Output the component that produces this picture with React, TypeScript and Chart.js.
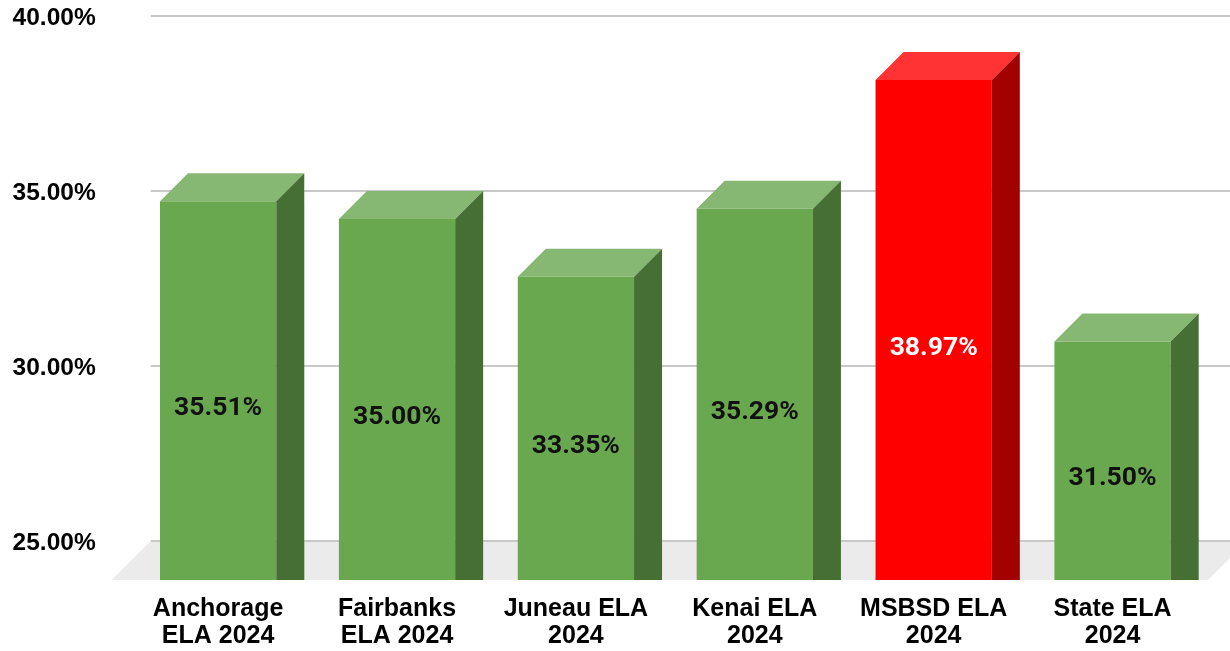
import React, { useEffect, useRef } from "react";
import { Chart, registerables } from "chart.js";

Chart.register(...registerables);

// ---- data ----
const CATEGORIES: string[][] = [
  ["Anchorage", "ELA 2024"],
  ["Fairbanks", "ELA 2024"],
  ["Juneau ELA", "2024"],
  ["Kenai ELA", "2024"],
  ["MSBSD ELA", "2024"],
  ["State ELA", "2024"],
];
const VALUES: number[] = [35.51, 35.0, 33.35, 35.29, 38.97, 31.5];
const HIGHLIGHT: boolean[] = [false, false, false, false, true, false];
const Y_TICKS: number[] = [25, 30, 35, 40];

// ---- styles ----
const DEPTH = 28;
const GREEN = { front: "#6aa84f", top: "#87b873", side: "#466f34", text: "#111111" };
const RED = { front: "#ff0000", top: "#ff3333", side: "#a30000", text: "#ffffff" };
const AXIS_FONT = "'Liberation Sans', Arial, sans-serif";
const LABEL_FONT = "Roboto, 'Liberation Sans', sans-serif";

const bars3d = {
  id: "bars3d",
  beforeDatasetsDraw(chart: any) {
    const { ctx, chartArea, scales } = chart;
    const yB = scales.y;
    const backY = yB.getPixelForValue(Y_TICKS[0]);
    const frontY = chartArea.bottom;
    const dx = frontY - backY;
    ctx.save();
    // floor
    ctx.fillStyle = "#ebebeb";
    ctx.beginPath();
    ctx.moveTo(chartArea.left - 17, frontY);
    ctx.lineTo(chartArea.left - 17 + dx, backY);
    ctx.lineTo(chartArea.right + 6 + dx, backY);
    ctx.lineTo(chartArea.right + 6, frontY);
    ctx.closePath();
    ctx.fill();
    // back wall grid lines
    ctx.strokeStyle = "#c8c8c8";
    ctx.lineWidth = 2;
    for (const v of Y_TICKS) {
      const y = Math.round(yB.getPixelForValue(v));
      ctx.beginPath();
      ctx.moveTo(chartArea.left - 17 + dx, y);
      ctx.lineTo(chart.width, y);
      ctx.stroke();
    }
    ctx.restore();
  },
  afterDatasetsDraw(chart: any) {
    const { ctx, chartArea } = chart;
    const meta = chart.getDatasetMeta(0);
    ctx.save();
    meta.data.forEach((el: any, i: number) => {
      const p = el.getProps(["x", "y", "base", "width"], true);
      const x = p.x;
      const y = p.y;
      const width = p.width;
      const base = Math.min(p.base, chartArea.bottom);
      const c = HIGHLIGHT[i] ? RED : GREEN;
      const l = x - width / 2;
      const r = x + width / 2;
      // top face
      ctx.fillStyle = c.top;
      ctx.beginPath();
      ctx.moveTo(l, y);
      ctx.lineTo(l + DEPTH, y - DEPTH);
      ctx.lineTo(r + DEPTH, y - DEPTH);
      ctx.lineTo(r, y);
      ctx.closePath();
      ctx.fill();
      // side face
      ctx.fillStyle = c.side;
      ctx.beginPath();
      ctx.moveTo(r, y);
      ctx.lineTo(r + DEPTH, y - DEPTH);
      ctx.lineTo(r + DEPTH, base);
      ctx.lineTo(r, base);
      ctx.closePath();
      ctx.fill();
      // value label
      ctx.fillStyle = c.text;
      ctx.font = `bold 26.5px ${LABEL_FONT}`;
      ctx.textAlign = "center";
      ctx.textBaseline = "middle";
      ctx.fillText(VALUES[i].toFixed(2) + "%", x, (y + base) / 2 + 18);
    });
    ctx.restore();
  },
};

export default function App() {
  const ref = useRef<HTMLCanvasElement | null>(null);
  useEffect(() => {
    if (!ref.current) return;
    const chart = new Chart(ref.current, {
      type: "bar",
      data: {
        labels: CATEGORIES,
        datasets: [
          {
            data: VALUES,
            yAxisID: "yFront",
            backgroundColor: HIGHLIGHT.map((h) => (h ? RED.front : GREEN.front)),
            borderWidth: 0,
            barPercentage: 0.65,
            categoryPercentage: 1,
          },
        ],
      },
      options: {
        responsive: false,
        animation: false,
        layout: { padding: { top: 16, right: 28, bottom: 0, left: 0 } },
        plugins: { legend: { display: false }, tooltip: { enabled: false } },
        scales: {
          x: {
            type: "category",
            grid: { display: false, drawTicks: false },
            border: { display: false },
            ticks: {
              color: "#000000",
              font: { family: AXIS_FONT, size: 25, weight: "bold", lineHeight: 1.08 },
              padding: 16,
              maxRotation: 0,
              autoSkip: false,
            },
            afterFit: (axis: any) => {
              axis.height = 71;
            },
          },
          y: {
            type: "linear",
            position: "left",
            min: 23.886,
            max: 40,
            grid: { display: false, drawTicks: false },
            border: { display: false },
            afterBuildTicks: (axis: any) => {
              axis.ticks = Y_TICKS.map((v) => ({ value: v }));
            },
            ticks: {
              color: "#000000",
              font: { family: AXIS_FONT, size: 24.5, weight: "bold" },
              padding: 33,
              labelOffset: 2,
              callback: (v: any) => Number(v).toFixed(2) + "%",
            },
            afterFit: (axis: any) => {
              axis.width = 128.7;
              axis.paddingTop = 0;
              axis.paddingBottom = 0;
            },
          },
          yFront: {
            type: "linear",
            display: false,
            min: 24.686,
            max: 40.8,
          },
        },
      },
      plugins: [bars3d],
    });
    return () => chart.destroy();
  }, []);
  return (
    <div style={{ position: "absolute", left: 0, top: 0, width: 1230, height: 651, background: "#ffffff" }}>
      <canvas ref={ref} width={1230} height={651} />
    </div>
  );
}
